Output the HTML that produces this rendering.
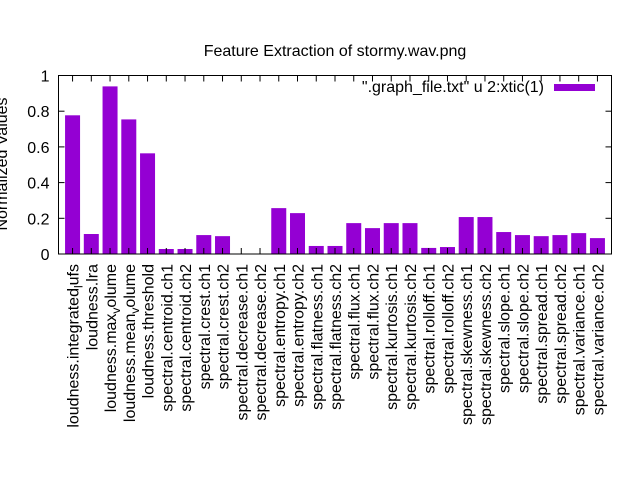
<!DOCTYPE html>
<html><head><meta charset="utf-8"><style>
body{margin:0;background:#fff}
svg{display:block;font-family:"Liberation Sans",Arial,sans-serif}
</style></head><body>
<svg id="chart" width="640" height="480" viewBox="0 0 640 480" xmlns="http://www.w3.org/2000/svg">
<rect width="640" height="480" fill="#fff"/>
<text x="335" y="56" font-size="16" text-anchor="middle">Feature Extraction of stormy.wav.png</text>
<text transform="translate(7,164) rotate(-90)" font-size="16" text-anchor="middle">Normalized Values</text>
<g id="bars"></g>
<g id="axes"></g>
<rect x="58.5" y="75.5" width="553" height="178.5" fill="none" stroke="#000" stroke-width="1"/>
<g>
<text x="544" y="92" font-size="16" text-anchor="end">".graph_file.txt" u 2:xtic(1)</text>
<rect x="554" y="84" width="41" height="7" fill="#9400d3"/>
</g>
</svg>
<script>
const categories=["loudness.integrated_lufs","loudness.lra","loudness.max_volume","loudness.mean_volume","loudness.threshold","spectral.centroid.ch1","spectral.centroid.ch2","spectral.crest.ch1","spectral.crest.ch2","spectral.decrease.ch1","spectral.decrease.ch2","spectral.entropy.ch1","spectral.entropy.ch2","spectral.flatness.ch1","spectral.flatness.ch2","spectral.flux.ch1","spectral.flux.ch2","spectral.kurtosis.ch1","spectral.kurtosis.ch2","spectral.rolloff.ch1","spectral.rolloff.ch2","spectral.skewness.ch1","spectral.skewness.ch2","spectral.slope.ch1","spectral.slope.ch2","spectral.spread.ch1","spectral.spread.ch2","spectral.variance.ch1","spectral.variance.ch2"];
const values=[0.777,0.112,0.939,0.754,0.564,0.028,0.028,0.106,0.1,0,0,0.257,0.229,0.045,0.045,0.173,0.145,0.173,0.173,0.034,0.039,0.207,0.207,0.123,0.106,0.1,0.106,0.117,0.089];
const yTicks=[0,0.2,0.4,0.6,0.8,1];
const yTickLabels=["0","0.2","0.4","0.6","0.8","1"];
const NS="http://www.w3.org/2000/svg";
const L=58.5,R=611.5,T=75.5,B=254;
const x=i=>L+(i+0.75)*(R-L)/(categories.length-1+1.5);
const y=v=>B-v*(B-T);
const bw=0.8*(R-L)/(categories.length+0.5);
const bars=document.getElementById('bars'),axes=document.getElementById('axes');
function mk(t,a){const e=document.createElementNS(NS,t);for(const k in a)e.setAttribute(k,a[k]);return e;}
values.forEach((v,i)=>{
  const r=mk('rect',{x:x(i)-bw/2,y:y(v),width:bw,height:B-y(v),fill:'#9400d3'});
  
  
  bars.appendChild(r);
});
yTicks.forEach((t,i)=>{
  const l1=mk('line',{x1:L,x2:L+6,y1:y(t),y2:y(t),stroke:'#000'});
  
  
  axes.appendChild(l1);
  const l2=mk('line',{x1:R-6,x2:R,y1:y(t),y2:y(t),stroke:'#000'});
  
  
  axes.appendChild(l2);
  const tx=mk('text',{x:L-9,y:y(t)+6,'font-size':16,'text-anchor':'end'});
  tx.textContent=yTickLabels[i];
  
  
  axes.appendChild(tx);
});
categories.forEach((c,i)=>{
  const xi=x(i);
  const t1=mk('line',{x1:xi,x2:xi,y1:B,y2:B-6,stroke:'#000'});
  
  
  axes.appendChild(t1);
  const t2=mk('line',{x1:xi,x2:xi,y1:T,y2:T+6,stroke:'#000'});
  
  
  axes.appendChild(t2);
  const tx=mk('text',{transform:`translate(${xi+6},264) rotate(-90)`,'font-size':16,'text-anchor':'end'});
  const parts=c.split('_');
  if(parts.length>1){
    tx.appendChild(document.createTextNode(parts[0]));
    const s=mk('tspan',{dy:4,'font-size':12});s.textContent=parts[1][0];tx.appendChild(s);
    const r=mk('tspan',{dy:-4});r.textContent=parts[1].slice(1);tx.appendChild(r);
  } else tx.textContent=c;
  
  
  axes.appendChild(tx);
});
</script>
</body></html>
